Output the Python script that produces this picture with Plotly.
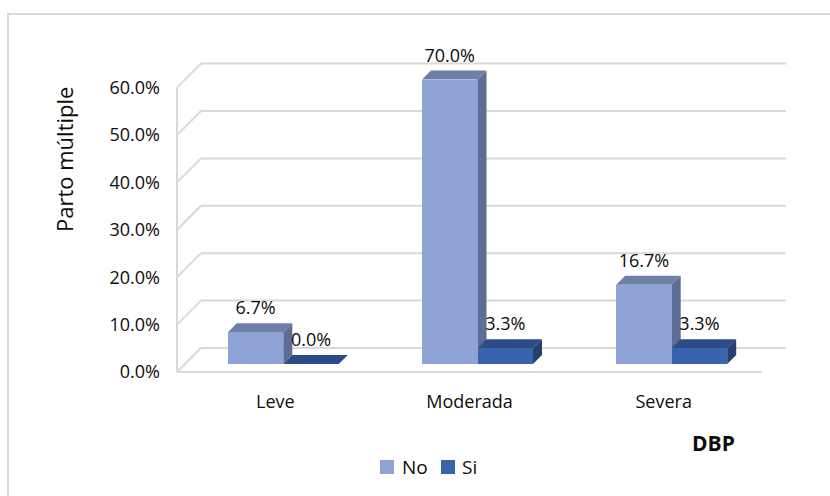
import plotly.graph_objects as go

# ---------------- data ----------------
categories = ["Leve", "Moderada", "Severa"]
series_names = ["No", "Si"]
no_values = [0.067, 0.700, 0.167]
si_values = [0.000, 0.033, 0.033]
y_ticks = [0.0, 0.1, 0.2, 0.3, 0.4, 0.5, 0.6]
axis_max = 0.6
y_title = "Parto múltiple"
x_title = "DBP"

# ---------------- styles / layout geometry ----------------
W, H = 830, 496
L, R, T, B = 175, 40, 50, 123
PW, PH = W - L - R, H - T - B
PXU = 194.2          # pixels per category unit
PYU = 474.0          # pixels per 100 %
FRONT_X0 = 275.3     # pixel of first category on front plane
FRONT_Y0 = 372.0     # pixel of 0 % on front plane
XMIN = (L - FRONT_X0) / PXU
XMAX = XMIN + PW / PXU
YMIN = (FRONT_Y0 - (H - B)) / PYU
YMAX = YMIN + PH / PYU
DX, DY = 1.0 / PXU, 1.0 / PYU

def dx(px):
    return XMIN + (px - L) / PXU

def paper_x(px):
    return (px - L) / PW

def paper_y(py):
    return ((H - B) - py) / PH

FONT = "Open Sans"
TXT = "#0d0d0d"
GRID = "#D9D9D9"
colors = {
    "No": {"front": "#8FA3D6", "top": "#6E7FA9", "side": "#5E6D95"},
    "Si": {"front": "#3A63AE", "top": "#2D4B86", "side": "#27406F"},
}
WALL_DEPTH = 24      # px
BAR_PLANE = 8        # px
BAR_DEPTH = 9        # px
BAR_W = 55.5 / PXU
LABEL_GAP = 22.5     # px

shapes = []
wall_x = dx(177)
back_right = dx(786)
floor_right = dx(762)

# frame
shapes.append(dict(type="rect", xref="paper", yref="paper",
                   x0=paper_x(8), x1=paper_x(845), y0=paper_y(14), y1=paper_y(520),
                   line=dict(color=GRID, width=2), fillcolor="rgba(0,0,0,0)", layer="below"))

# walls / gridlines
for v in y_ticks:
    shapes.append(dict(type="line", xref="x", yref="y", layer="below",
                       x0=wall_x, y0=v, x1=wall_x + WALL_DEPTH * DX, y1=v + WALL_DEPTH * DY,
                       line=dict(color=GRID, width=2)))
    shapes.append(dict(type="line", xref="x", yref="y", layer="below",
                       x0=wall_x + WALL_DEPTH * DX, y0=v + WALL_DEPTH * DY,
                       x1=back_right, y1=v + WALL_DEPTH * DY,
                       line=dict(color=GRID, width=2)))
shapes.append(dict(type="line", xref="x", yref="y", layer="below",
                   x0=wall_x, y0=0, x1=wall_x, y1=max(y_ticks),
                   line=dict(color=GRID, width=2)))
shapes.append(dict(type="line", xref="x", yref="y", layer="below",
                   x0=wall_x, y0=0, x1=floor_right, y1=0,
                   line=dict(color=GRID, width=2)))

def path(pts):
    return "M " + " L ".join(f"{x:.5f},{y:.5f}" for x, y in pts) + " Z"

fig = go.Figure()
base = BAR_PLANE * DY
label_x, label_y, label_t = [], [], []
for s, (name, vals) in enumerate(zip(series_names, [no_values, si_values])):
    xs = [i + BAR_PLANE * DX + (s - 0.5) * BAR_W for i in range(len(categories))]
    shown = [min(v, axis_max) for v in vals]
    fig.add_trace(go.Bar(x=xs, y=shown, base=base, width=BAR_W, name=name,
                         marker=dict(color=colors[name]["front"], line=dict(width=0)),
                         hoverinfo="skip", showlegend=False))
    for x, v, real in zip(xs, shown, vals):
        x0, x1 = x - BAR_W / 2, x + BAR_W / 2
        top = base + v
        ox, oy = BAR_DEPTH * DX, BAR_DEPTH * DY
        shapes.append(dict(type="path", xref="x", yref="y", layer="below",
                           path=path([(x1, base), (x1 + ox, base + oy), (x1 + ox, top + oy), (x1, top)]),
                           fillcolor=colors[name]["side"], line=dict(width=0)))
        shapes.append(dict(type="path", xref="x", yref="y", layer="below",
                           path=path([(x0, top), (x1, top), (x1 + ox, top + oy), (x0 + ox, top + oy)]),
                           fillcolor=colors[name]["top"], line=dict(width=0)))
        label_x.append(x)
        label_y.append(top + LABEL_GAP * DY)
        label_t.append(f"{real * 100:.1f}%")

fig.add_trace(go.Scatter(x=label_x, y=label_y, text=label_t, mode="text",
                         textposition="middle center", showlegend=False, cliponaxis=False,
                         textfont=dict(family=FONT, size=18, color=TXT), hoverinfo="skip"))

annotations = [
    dict(text=y_title, xref="paper", yref="paper", x=paper_x(64), y=paper_y(160),
         textangle=-90, showarrow=False, xanchor="center", yanchor="middle",
         font=dict(family=FONT, size=22, color=TXT)),
    dict(text=f"<b>{x_title}</b>", xref="paper", yref="paper", x=paper_x(713), y=paper_y(443),
         showarrow=False, xanchor="center", yanchor="middle",
         font=dict(family=FONT, size=21, color=TXT)),
]

# manual legend
legend_pos = {"No": (380, 400), "Si": (441, 460)}
for name in series_names:
    sq_x, tx = legend_pos[name]
    shapes.append(dict(type="rect", xref="paper", yref="paper",
                       x0=paper_x(sq_x), x1=paper_x(sq_x + 14), y0=paper_y(474), y1=paper_y(460),
                       fillcolor=colors[name]["front"], line=dict(width=0)))
    annotations.append(dict(text=name, xref="paper", yref="paper", x=paper_x(tx), y=paper_y(467),
                            showarrow=False, xanchor="left", yanchor="middle",
                            font=dict(family=FONT, size=19, color=TXT)))

fig.update_layout(
    width=W, height=H, margin=dict(l=L, r=R, t=T, b=B, pad=0),
    paper_bgcolor="white", plot_bgcolor="white",
    barmode="overlay", bargap=0,
    shapes=shapes, annotations=annotations,
    font=dict(family=FONT, size=18, color=TXT),
    xaxis=dict(range=[XMIN, XMAX], tickvals=list(range(len(categories))), ticktext=categories,
               showgrid=False, zeroline=False, showline=False, ticks="",
               ticklabelstandoff=16, tickfont=dict(family=FONT, size=18, color=TXT)),
    yaxis=dict(range=[YMIN, YMAX], tickvals=y_ticks, tickformat=".1%",
               showgrid=False, zeroline=False, showline=False, ticks="",
               ticklabelstandoff=14, tickfont=dict(family=FONT, size=18, color=TXT)),
    showlegend=False,
)

fig.write_html("out.html")
